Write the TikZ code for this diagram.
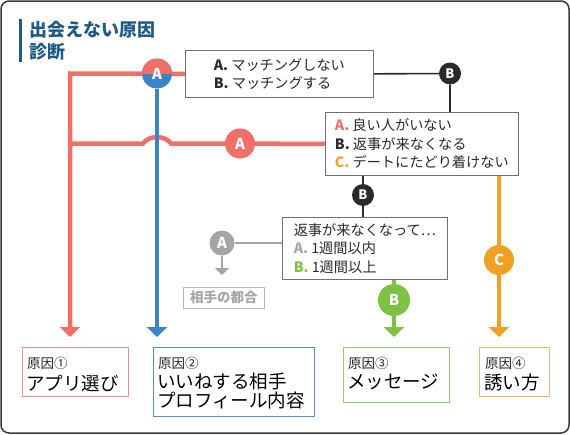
\documentclass[tikz,border=0pt]{standalone}
\usepackage{fontspec}
\setmainfont{Noto Sans CJK JP}
\usetikzlibrary{arrows.meta,shadows,backgrounds}
\definecolor{cred}{HTML}{F07068}
\definecolor{cblue}{HTML}{3C84C8}
\definecolor{cgreen}{HTML}{7DC243}
\definecolor{corange}{HTML}{F0A024}
\definecolor{cgray}{HTML}{A5A5A5}
\definecolor{cdark}{HTML}{2A2A2A}
\definecolor{ctitle}{HTML}{1F5A85}
\definecolor{cframe}{HTML}{3A3A3A}
\definecolor{bred}{HTML}{E8908C}
\definecolor{bblue}{HTML}{5A8CC8}
\definecolor{bgreen}{HTML}{95CC70}
\definecolor{borange}{HTML}{F2B468}
\definecolor{qgray}{HTML}{707070}
\begin{document}
\begin{tikzpicture}[x=1pt,y=-1pt,
  shad/.style={drop shadow={shadow xshift=0.8pt,shadow yshift=-1pt,fill=black!30,opacity=0.45}},
  qbox/.style={draw=qgray,line width=0.7pt,fill=white,align=left,anchor=north west,inner sep=0pt,
    font=\fontsize{14.2}{18.5}\selectfont,text=cdark,shad},
  cbox/.style={line width=0.9pt,fill=white,anchor=north west,inner sep=0pt,shad},
  smalltxt/.style={anchor=west,inner sep=0pt,font=\fontsize{13.5}{16}\selectfont,text=cdark},
  bigtxt/.style={anchor=west,inner sep=0pt,align=left,font=\fontsize{18.5}{19}\selectfont,text=black},
  circ/.style={circle,inner sep=0pt,minimum size=30pt,text=white,font=\bfseries\fontsize{15}{15}\selectfont},
  bcirc/.style={circ,fill=cdark,minimum size=22pt,font=\bfseries\fontsize{13}{13}\selectfont},
  thick line/.style={line width=4.5pt},
  bigarrow/.style={-{Triangle[width=20pt,length=10pt]},shorten >=10pt},
]
\useasboundingbox (0,0) rectangle (570,434);

% title
\node[anchor=west,inner sep=0pt,align=left,text=ctitle,font=\bfseries\fontsize{18}{22}\selectfont] (title) at (29,41) {出会えない原因\\診断};

% question boxes
\node[qbox,minimum width=188pt,minimum height=47pt] (q1) at (185,50) {\textbf{A.} マッチングしない\\\textbf{B.} マッチングする};
\node[qbox,minimum width=193pt,minimum height=63pt] (q2) at (325,112) {\textcolor{cred}{\textbf{A.}} 良い人がいない\\\textbf{B.} 返事が来なくなる\\\textcolor{corange}{\textbf{C.}} デートにたどり着けない};
\node[qbox,minimum width=165pt,minimum height=62pt] (q3) at (282,217) {返事が来なくなって…\\\textcolor{cgray}{\textbf{A.}} 1週間以内\\\textcolor{cgreen}{\textbf{B.}} 1週間以上};
\node[qbox,draw=cgray!80,text=cgray,minimum width=81pt,minimum height=21pt,align=center,font=\bfseries\fontsize{13.5}{16}\selectfont] (tsugo) at (183,287) {相手の都合};

% cause boxes
\node[cbox,draw=bred,minimum width=106pt,minimum height=49pt] (b1) at (22,347) {};
\node[cbox,draw=bblue,minimum width=161pt,minimum height=69pt] (b2) at (153,347) {};
\node[cbox,draw=bgreen,minimum width=106pt,minimum height=55pt] (b3) at (343,347) {};
\node[cbox,draw=borange,minimum width=70pt,minimum height=49pt] (b4) at (479,347) {};
\node[smalltxt] (b1s) at (27,363) {原因①};
\node[bigtxt] (b1b) at (26,383) {アプリ選び};
\node[smalltxt] (b2s) at (158,363) {原因②};
\node[bigtxt] (b2b) at (157,391) {いいねする相手\\プロフィール内容};
\node[smalltxt] (b3s) at (348,363) {原因③};
\node[bigtxt] (b3b) at (347,382) {メッセージ};
\node[smalltxt] (b4s) at (485,363) {原因④};
\node[bigtxt] (b4b) at (484,382) {誘い方};

% circles
\node[circ,fill=cblue,path picture={\fill[cred] (path picture bounding box.west) rectangle (path picture bounding box.north east);}] (ca1) at (157,73.5) {A};
\node[circ,fill=cred] (ca2) at (240,143.5) {A};
\node[bcirc] (cb1) at (450,73.5) {B};
\node[bcirc] (cb2) at (363,195) {B};
\node[circ,fill=corange] (cc) at (499,260) {C};
\node[circ,fill=cgray,minimum size=25pt] (cga) at (222,243) {A};
\node[circ,fill=cgreen,minimum size=32pt] (cgb) at (394,300) {B};

\coordinate (rc1) at (70,73.5);
\coordinate (rc2) at (70,143.5);

\begin{scope}[on background layer]
  \draw[draw=cframe,line width=1.5pt,rounded corners=8pt] (1,1) rectangle (569,433);
  \draw[draw=ctitle,line width=3pt] (20,19) -- (20,62);
  % red path A
  \draw[cred,thick line,bigarrow] (q1.west) -- (rc1) -- (rc1 |- b1.north);
  \draw[cred,thick line] (q2.west) -- (171,143.5) .. controls (165,135) and (149,135) .. (143,143.5) -- (rc2);
  % blue
  \draw[cblue,thick line,bigarrow] (ca1) -- (ca1 |- b2.north);
  % black
  \draw[cdark,line width=1.6pt] (q1.east) -- (cb1) -- (cb1 |- q2.north);
  \draw[cdark,line width=1.6pt] (q2.south -| cb2) -- (cb2) -- (cb2 |- q3.north);
  % orange
  \draw[corange,thick line,bigarrow] (q2.south -| cc) -- (cc |- b4.north);
  % gray
  \draw[cgray,line width=2pt] (q3.west |- cga) -- (cga);
  \draw[cgray,line width=2pt,-{Triangle[width=14pt,length=7pt]},shorten >=12pt] (cga) -- (cga |- tsugo.north);
  % green
  \draw[cgreen,thick line,bigarrow] (q3.south -| cgb) -- (cgb |- b3.north);
\end{scope}
\end{tikzpicture}
\end{document}
